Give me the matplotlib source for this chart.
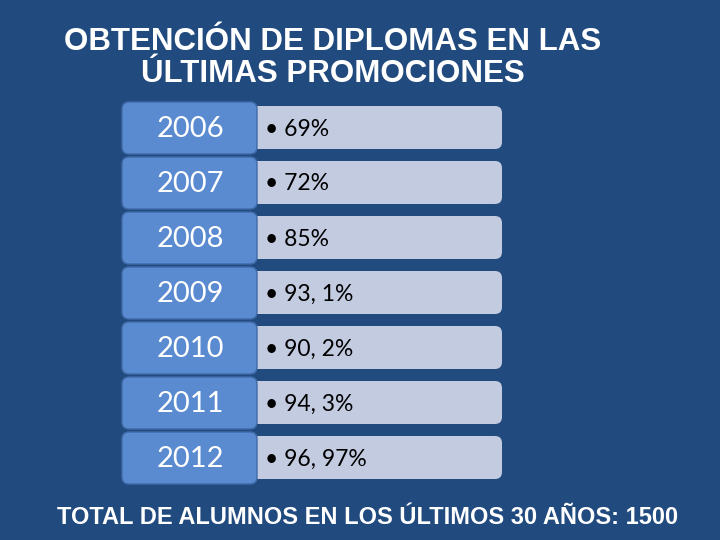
import matplotlib
matplotlib.use("Agg")
import matplotlib.pyplot as plt
from matplotlib.patches import FancyBboxPatch

years = ["2006", "2007", "2008", "2009", "2010", "2011", "2012"]
percents = ["69%", "72%", "85%", "93, 1%", "90, 2%", "94, 3%", "96, 97%"]
title = "OBTENCIÓN DE DIPLOMAS EN LAS\nÚLTIMAS PROMOCIONES"
footer = "TOTAL DE ALUMNOS EN LOS ÚLTIMOS 30 AÑOS: 1500"

bg = "#214a7e"
fig = plt.figure(figsize=(7.2, 5.4), dpi=100, facecolor=bg)
ax = fig.add_axes([0, 0, 1, 1])
ax.set_xlim(0, 720); ax.set_ylim(540, 0); ax.axis("off")
ax.set_facecolor(bg)

ax.text(333, 58, title, ha="center", va="center", color="white",
        fontsize=22.5, fontweight="bold", family="Liberation Sans", linespacing=1.1)

for i, (y, p) in enumerate(zip(years, percents)):
    top = 102 + i * 55
    right = FancyBboxPatch((250, top + 4), 252, 43, boxstyle="round,pad=0,rounding_size=7",
                           fc="#c2cbe0", ec="none")
    ax.add_patch(right)
    left = FancyBboxPatch((122, top), 135, 52, boxstyle="round,pad=0,rounding_size=7",
                          fc="#5a8ad0", ec="#3f6aa8", lw=1)
    ax.add_patch(left)
    ax.text(190, top + 27, y, ha="center", va="center", color="white", fontsize=21, family="Lato")
    ax.text(265, top + 27, "• " + p, ha="left", va="center", color="black", fontsize=16.5, family="Lato")

ax.text(368, 517, footer, ha="center", va="center", color="white",
        fontsize=17, fontweight="bold", family="Liberation Sans")

fig.savefig("out.png", dpi=100, facecolor=bg)
